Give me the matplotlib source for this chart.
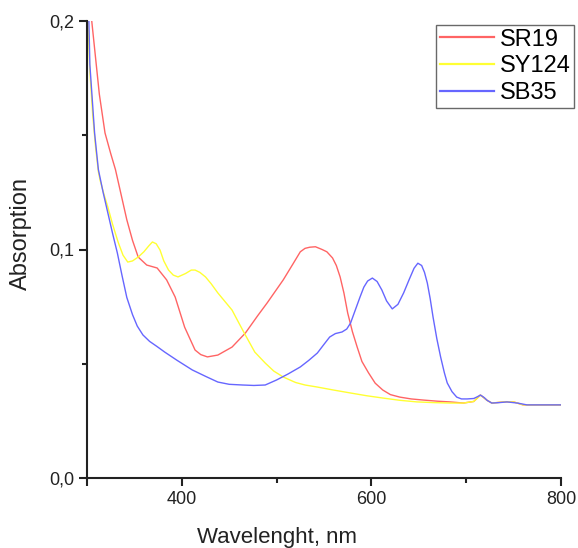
import matplotlib
matplotlib.use("Agg")
import matplotlib.pyplot as plt
from matplotlib.ticker import FixedLocator

plt.rcParams['font.family'] = ['Liberation Sans', 'DejaVu Sans']

# ---- data ----
sr19_wl = [305, 308, 313, 319, 325, 330, 336, 342, 348, 354, 363, 374, 384, 393, 403, 414,
           420, 427, 438, 453, 467, 480, 490, 507, 517, 525, 530, 535, 541, 548, 553, 559,
           563, 567, 571, 575, 580, 585, 590, 597, 604, 612, 620, 630, 642, 655, 670, 683,
           697, 708, 715, 722, 727, 740, 750, 760, 780, 800]
sr19_a = [0.200, 0.188, 0.168, 0.151, 0.142, 0.135, 0.124, 0.113, 0.104, 0.0967, 0.0932,
          0.0919, 0.0867, 0.0792, 0.066, 0.056, 0.0540, 0.053, 0.0538, 0.0573, 0.0634,
          0.0710, 0.0766, 0.0867, 0.0935, 0.099, 0.1005, 0.101, 0.1012, 0.100, 0.0990,
          0.0963, 0.0930, 0.088, 0.0810, 0.0722, 0.0640, 0.0573, 0.0510, 0.046, 0.0415,
          0.0385, 0.0365, 0.0354, 0.0346, 0.0341, 0.0336, 0.0333, 0.0328, 0.0335, 0.0363,
          0.034, 0.0328, 0.0333, 0.0333, 0.032, 0.032, 0.032]

sy124_wl = [301, 303, 306, 309, 312, 314, 318, 322, 327, 333, 338, 343, 348, 354, 360, 365,
            369, 373, 377, 381, 386, 391, 396, 404, 410, 414, 419, 425, 431, 438, 445, 453,
            460, 467, 477, 488, 497, 507, 520, 530, 543, 560, 578, 595, 612, 630, 648, 665,
            683, 697, 708, 715, 722, 727, 740, 750, 760, 780, 800]
sy124_a = [0.200, 0.178, 0.159, 0.145, 0.134, 0.130, 0.124, 0.1186, 0.111, 0.103, 0.0975,
           0.0945, 0.0950, 0.0967, 0.0990, 0.1015, 0.1033, 0.1025, 0.0998, 0.0950, 0.091,
           0.0888, 0.088, 0.0895, 0.0910, 0.091, 0.0900, 0.088, 0.0850, 0.081, 0.0775,
           0.0735, 0.0680, 0.0626, 0.0551, 0.0503, 0.0468, 0.0442, 0.0418, 0.0407, 0.0398,
           0.0385, 0.0372, 0.0360, 0.035, 0.0340, 0.0333, 0.0330, 0.0328, 0.0328, 0.0335,
           0.0363, 0.034, 0.0328, 0.0333, 0.0333, 0.032, 0.032, 0.032]

sb35_wl = [302, 303, 306, 308, 312, 317, 322, 327, 332, 337, 342, 348, 353, 359, 366, 374,
           382, 395, 411, 425, 438, 450, 464, 476, 488, 500, 512, 525, 534, 543, 550, 556,
           562, 569, 574, 578, 583, 588, 592, 596, 601, 606, 611, 616, 622, 628, 634, 640,
           645, 649, 653, 656, 659, 662, 665, 669, 673, 677, 680, 685, 690, 695, 701, 708,
           712, 715, 719, 722, 727, 735, 743, 754, 764, 780, 800]
sb35_a = [0.200, 0.181, 0.163, 0.151, 0.135, 0.125, 0.116, 0.107, 0.0985, 0.0885, 0.079,
          0.0715, 0.0665, 0.0626, 0.0598, 0.0575, 0.0551, 0.0515, 0.0473, 0.0445, 0.042,
          0.0410, 0.0407, 0.0405, 0.0407, 0.0429, 0.0455, 0.0486, 0.0515, 0.0547, 0.0585,
          0.0617, 0.0632, 0.0639, 0.0652, 0.0678, 0.0735, 0.0792, 0.0835, 0.0862, 0.0875,
          0.0860, 0.0823, 0.0775, 0.074, 0.0760, 0.081, 0.0870, 0.0918, 0.094, 0.0930,
          0.0900, 0.0853, 0.0785, 0.0705, 0.0610, 0.053, 0.0460, 0.0416, 0.0378, 0.0354,
          0.0346, 0.0346, 0.0348, 0.0356, 0.0363, 0.0352, 0.034, 0.0328, 0.0330, 0.0333,
          0.0328, 0.032, 0.032, 0.032]

series_names = ["SR19", "SY124", "SB35"]
series_colors = ["#ff6464", "#ffff33", "#6666ff"]

x_major = [300, 400, 600, 800]
x_major_labels = ["", "400", "600", "800"]
x_minor = [500, 700]
y_major = [0.0, 0.1, 0.2]
y_major_labels = ["0,0", "0,1", "0,2"]
y_minor = [0.05, 0.15]

# ---- figure ----
fig = plt.figure(figsize=(5.78, 5.48), dpi=100)
ax = fig.add_axes([87/578, 1-478/548, (561-87)/578, (478-21)/548])

for wl, a, name, col in zip([sr19_wl, sy124_wl, sb35_wl], [sr19_a, sy124_a, sb35_a],
                            series_names, series_colors):
    ax.plot(wl, a, color=col, lw=1.0, label=name, solid_joinstyle="round")

ax.set_xlim(300, 800)
ax.set_ylim(0.0, 0.2)

ax.xaxis.set_major_locator(FixedLocator(x_major))
ax.set_xticklabels(x_major_labels)
ax.xaxis.set_minor_locator(FixedLocator(x_minor))
ax.yaxis.set_major_locator(FixedLocator(y_major))
ax.set_yticklabels(y_major_labels)
ax.yaxis.set_minor_locator(FixedLocator(y_minor))

for s in ["top", "right"]:
    ax.spines[s].set_visible(False)
for s in ["left", "bottom"]:
    ax.spines[s].set_linewidth(1.5)
    ax.spines[s].set_color("#222222")

ax.tick_params(axis="both", which="major", direction="out", length=6, width=1.5,
               labelsize=13, colors="#222222", pad=3)
ax.tick_params(axis="both", which="minor", direction="out", length=3.5, width=1.5,
               colors="#222222")

ax.set_xlabel("Wavelenght, nm", fontsize=16, color="#222222", va="baseline")
ax.set_ylabel("Absorption", fontsize=17, color="#222222")
ax.xaxis.set_label_coords((277-87)/474, -(543-478)/457)
ax.yaxis.set_label_coords(-(87-32)/474, 0.534)

leg = ax.legend(loc="upper left", bbox_to_anchor=(436/578, 1-25/548),
                bbox_transform=fig.transFigure, fontsize=17, frameon=True,
                fancybox=False, handlelength=2.3, handletextpad=0.25,
                labelspacing=0.2, borderpad=0.15, borderaxespad=0)
leg.get_frame().set_edgecolor("#444444")
leg.get_frame().set_linewidth(1.0)
for line in leg.get_lines():
    line.set_linewidth(1.6)

fig.savefig("out.png", dpi=100)
